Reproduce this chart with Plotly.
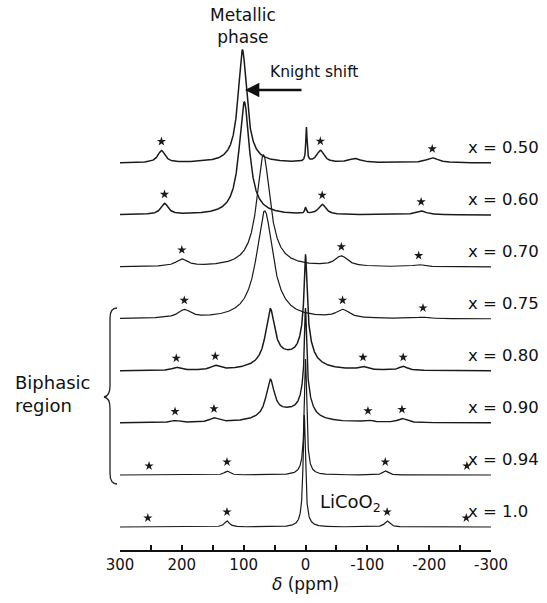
import numpy as np
import plotly.graph_objects as go

# ---------------- data ----------------
compositions = ["x = 0.50", "x = 0.60", "x = 0.70", "x = 0.75",
                "x = 0.80", "x = 0.90", "x = 0.94", "x = 1.0"]

# peak centres (ppm), heights (intensity units), half widths (ppm), star positions (ppm)
c050 = [102, -1.5, 233, -24, -80, -205]
h050 = [113, 34, 12, 12, 4, 5]
w050 = [8.5, 1.2, 7, 7, 12, 12]
s050 = [233, -24, -205]

c060 = [99, 0, 228, -27, -187]
h060 = [113, 6, 11, 10, 4]
w060 = [10, 1.5, 7, 7, 10]
s060 = [228, -27, -187]

c070 = [68, 200, -58, -183]
h070 = [112, 7, 10, 2]
w070 = [13, 11, 12, 10]
s070 = [200, -58, -183]

c075 = [66, 196, -60, -190]
h075 = [108, 8, 8, 1.5]
w075 = [16, 12, 12, 10]
s075 = [196, -60, -190]

c080 = [57, 0, 0, 28, 209, 146, -93, -158]
h080 = [54, 73, 35, 12, 3, 4, 3, 4]
w080 = [9, 2.5, 10, 35, 8, 8, 8, 8]
s080 = [209, 146, -93, -158]

c090 = [57, 0, 0, 28, 211, 148, -101, -156]
h090 = [37, 78, 30, 10, 2, 4, 2, 4]
w090 = [8, 2, 9, 35, 8, 8, 8, 8]
s090 = [211, 148, -101, -156]

c094 = [0, 0, 127, -129]
h094 = [108, 8, 4, 4]
w094 = [2.2, 7, 5, 5]
s094 = [253, 127, -129, -261]

c100 = [2, 2, 127, -132]
h100 = [106, 6, 6, 6]
w100 = [2.2, 7, 5, 5]
s100 = [255, 127, -132, -260]

tick_vals = [300, 250, 200, 150, 100, 50, 0, -50, -100, -150, -200, -250, -300]
tick_text = ["300", "", "200", "", "100", "", "0", "", "-100", "", "-200", "", "-300"]

# ---------------- layout constants ----------------
W, H = 547, 603
ML, MR, MT, MB = 120, 56, 0, 53
PW = W - ML - MR
PH = H - MT - MB
BASE0, STEP = 23, 52          # offset of the lowest trace, spacing between traces
STAR_GAP = 9
LABEL_GAP = 16

spectra = [
    (c050, h050, w050, s050, 1.5),
    (c060, h060, w060, s060, 1.5),
    (c070, h070, w070, s070, 1.2),
    (c075, h075, w075, s075, 1.2),
    (c080, h080, w080, s080, 1.5),
    (c090, h090, w090, s090, 1.4),
    (c094, h094, w094, s094, 1.2),
    (c100, h100, w100, s100, 1.2),
]

ppm = np.linspace(300, -300, 2401)


def spectrum(xs, cs, hs, ws):
    xs = np.asarray(xs, dtype=float)
    y = np.zeros_like(xs)
    for c, h, w in zip(cs, hs, ws):
        y += h / (1.0 + ((xs - c) / w) ** 2)
    return y


fig = go.Figure()
n = len(spectra)
for i, (cs, hs, ws, ss, lw) in enumerate(spectra):
    off = BASE0 + STEP * (n - 1 - i)
    y = off + spectrum(ppm, cs, hs, ws)
    fig.add_trace(go.Scatter(x=ppm, y=y, mode="lines",
                             line=dict(color="#1a1a1a", width=lw),
                             hoverinfo="skip", showlegend=False))
    sy = off + spectrum(ss, cs, hs, ws) + STAR_GAP
    fig.add_trace(go.Scatter(x=ss, y=sy, mode="markers",
                             marker=dict(symbol="star", size=7, color="#1a1a1a",
                                         line=dict(width=0)),
                             hoverinfo="skip", showlegend=False, cliponaxis=False))
    fig.add_annotation(x=-260, y=off + LABEL_GAP, xref="x", yref="y", text=compositions[i],
                       showarrow=False, xanchor="left", yanchor="middle",
                       font=dict(family="DejaVu Sans", size=16.5, color="#111"))


def px2ppm(px):
    return 300 - (px - ML) * 600.0 / PW


def py2y(py):
    return (H - MB) - py


def ppx(px):
    return (px - ML) / PW


def ppy(py):
    return (H - MB - py) / PH


# text labels
fig.add_annotation(x=px2ppm(243), y=py2y(26), xref="x", yref="y",
                   text="Metallic<br>phase", showarrow=False,
                   xanchor="center", yanchor="middle",
                   font=dict(family="DejaVu Sans", size=17, color="#111"))
fig.add_annotation(x=px2ppm(268), y=py2y(72), xref="x", yref="y",
                   text="Knight shift", showarrow=False,
                   xanchor="left", yanchor="middle",
                   font=dict(family="DejaVu Sans", size=15.5, color="#111"))
fig.add_annotation(x=px2ppm(245), y=py2y(90), ax=px2ppm(303), ay=py2y(90),
                   xref="x", yref="y", axref="x", ayref="y", text="",
                   showarrow=True, arrowhead=2, arrowsize=1.1, arrowwidth=2.6,
                   arrowcolor="#111")
fig.add_annotation(x=px2ppm(318), y=py2y(503), xref="x", yref="y",
                   text="LiCoO<sub>2</sub>", showarrow=False,
                   xanchor="left", yanchor="middle",
                   font=dict(family="DejaVu Sans", size=18, color="#111"))
fig.add_annotation(x=ppx(13), y=ppy(394), xref="paper", yref="paper",
                   text="Biphasic<br>region", showarrow=False, align="left",
                   xanchor="left", yanchor="middle",
                   font=dict(family="DejaVu Sans", size=18, color="#111"))

# brace
pts = [("M", 117, 308), ("Q", 110, 308, 110, 318), ("L", 110, 386),
       ("Q", 110, 396, 104, 397), ("Q", 110, 398, 110, 408), ("L", 110, 473),
       ("Q", 110, 484, 117, 484)]
path = ""
for p in pts:
    cmd = p[0]
    coords = p[1:]
    seg = " ".join(f"{ppx(coords[k]):.5f},{ppy(coords[k+1]):.5f}" for k in range(0, len(coords), 2))
    path += f"{cmd} {seg} "
fig.add_shape(type="path", path=path, xref="paper", yref="paper",
              line=dict(color="#222", width=1.3))

fig.update_layout(
    width=W, height=H,
    margin=dict(l=ML, r=MR, t=MT, b=MB),
    paper_bgcolor="white", plot_bgcolor="white",
    showlegend=False,
    font=dict(family="DejaVu Sans", color="#111"),
)
fig.update_xaxes(range=[300, -300], showgrid=False, zeroline=False,
                 showline=True, linecolor="#111", linewidth=1.5,
                 ticks="inside", ticklen=5, tickwidth=1.5, tickcolor="#111",
                 tickvals=tick_vals, ticktext=tick_text,
                 tickfont=dict(family="DejaVu Sans", size=15, color="#111"),
                 title=dict(text="<i>δ</i> (ppm)", standoff=2,
                            font=dict(family="DejaVu Sans", size=17, color="#111")))
fig.update_yaxes(range=[0, PH], visible=False, showgrid=False, zeroline=False)

fig.write_html("out.html", config={"displayModeBar": False},
               post_script="document.body.style.margin='0';document.body.style.overflow='hidden';")
